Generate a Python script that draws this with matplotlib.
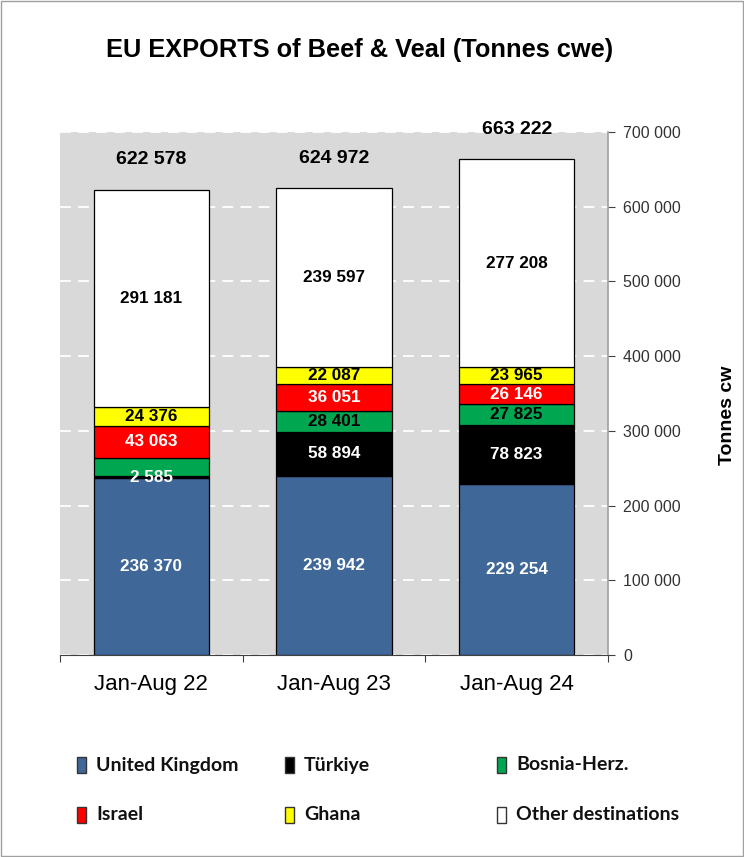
import numpy as np
import matplotlib
matplotlib.use('Agg')
import matplotlib.pyplot as plt
from matplotlib import font_manager
from matplotlib.patches import Rectangle

# ── Data ───────────────────────────────────────────────────────────────────────
periods  = ['Jan-Aug 22', 'Jan-Aug 23', 'Jan-Aug 24']
series   = ['United Kingdom', 'Türkiye', 'Bosnia-Herz.', 'Israel', 'Ghana',
            'Other destinations']
uk       = [236370, 239942, 229254]
turkiye  = [2585, 58894, 78823]
bosnia   = [25003, 28401, 27825]
israel   = [43063, 36051, 26146]
ghana    = [24376, 22087, 23965]
other    = [291181, 239597, 277208]
totals   = [622578, 624972, 663222]
yticks   = [0, 100000, 200000, 300000, 400000, 500000, 600000, 700000]

colors   = ['#3f6898', '#000000', '#00a650', '#ff0000', '#ffff00', '#ffffff']
txt_col  = ['white', 'white', 'black', 'white', 'black', 'black']
# Bosnia label for Jan-Aug 22 is not shown in the original
show_lbl = [[True] * 3, [True] * 3, [False, True, True],
            [True] * 3, [True] * 3, [True] * 3]

names = {f.name for f in font_manager.fontManager.ttflist}
NARROW = 'Liberation Sans Narrow' if 'Liberation Sans Narrow' in names else 'Liberation Sans'
REG = 'Liberation Sans'

def fmt(v):
    return f'{v:,}'.replace(',', ' ')

# ── Plot ───────────────────────────────────────────────────────────────────────
fig = plt.figure(figsize=(7.44, 8.57), dpi=100)
fig.patch.set_facecolor('white')
fig.add_artist(Rectangle((0.001, 0.001), 0.998, 0.998, transform=fig.transFigure,
                         fill=False, edgecolor='#a0a0a0', lw=1.0))

ax = fig.add_axes([60 / 744, 1 - 655 / 857, 548 / 744, 523 / 857])
ax.set_facecolor('#d9d9d9')

x = np.arange(len(periods))
data = [uk, turkiye, bosnia, israel, ghana, other]
bottom = np.zeros(len(periods))
for vals, col, tc, show in zip(data, colors, txt_col, show_lbl):
    vals = np.array(vals, dtype=float)
    ax.bar(x, vals, 0.63, bottom=bottom, color=col, edgecolor='black',
           lw=0.9, zorder=3)
    for i in range(len(x)):
        if show[i]:
            ax.text(x[i], bottom[i] + vals[i] / 2, fmt(int(vals[i])),
                    ha='center', va='center', color=tc, fontsize=12.3,
                    fontweight='bold', family=NARROW, zorder=4)
    bottom += vals

for i, t in enumerate(totals):
    ax.text(x[i], t + 40000, fmt(t), ha='center', va='center',
            fontsize=14, fontweight='bold', family=NARROW)

ax.set_xlim(-0.5, 2.5)
ax.set_ylim(0, 700000)
ax.yaxis.tick_right()
ax.set_yticks(yticks)
ax.set_yticklabels([fmt(v) for v in yticks], fontsize=11.5, family=REG,
                   color='#333333')
ax.tick_params(axis='y', length=5, width=0.8, color='#404040', pad=6)
ax.yaxis.grid(True, color='white', ls=(0, (6, 4)), lw=1.3, zorder=0)
ax.set_axisbelow(True)

ax.set_xticks(x)
ax.set_xticklabels(periods, fontsize=16, family=REG)
ax.tick_params(axis='x', length=0, pad=14)
ax.set_xticks([-0.5, 0.5, 1.5, 2.5], minor=True)
ax.tick_params(axis='x', which='minor', length=5, width=0.8, color='#404040')

for s in ['top', 'left']:
    ax.spines[s].set_visible(False)
ax.spines['right'].set_color('#a0a0a0')
ax.spines['right'].set_linewidth(1.2)
ax.spines['bottom'].set_color('#404040')
ax.spines['bottom'].set_linewidth(0.8)

fig.text(727 / 744, 1 - 415 / 857, 'Tonnes cw', rotation=90, ha='center',
         va='center', fontsize=14, fontweight='bold', family=REG)

fig.text(360 / 744, 1 - 50 / 857, 'EU EXPORTS of Beef & Veal (Tonnes cwe)',
         ha='center', va='center', fontsize=18.3, fontweight='bold', family=NARROW)

# ── Legend ─────────────────────────────────────────────────────────────────────
leg_x = [77, 285, 497]
leg_y = [765, 815]
for k, (name, col) in enumerate(zip(series, colors)):
    px = leg_x[k % 3]
    py = leg_y[k // 3]
    fig.add_artist(Rectangle((px / 744, 1 - (py + 8) / 857), 9 / 744, 16 / 857,
                             transform=fig.transFigure, facecolor=col,
                             edgecolor='#333333', lw=1.0))
    fig.text((px + 19) / 744, 1 - py / 857, name, ha='left', va='center',
             fontsize=14, fontweight='bold', family='Lato', color='#111111')

fig.savefig('out.png', dpi=100)
